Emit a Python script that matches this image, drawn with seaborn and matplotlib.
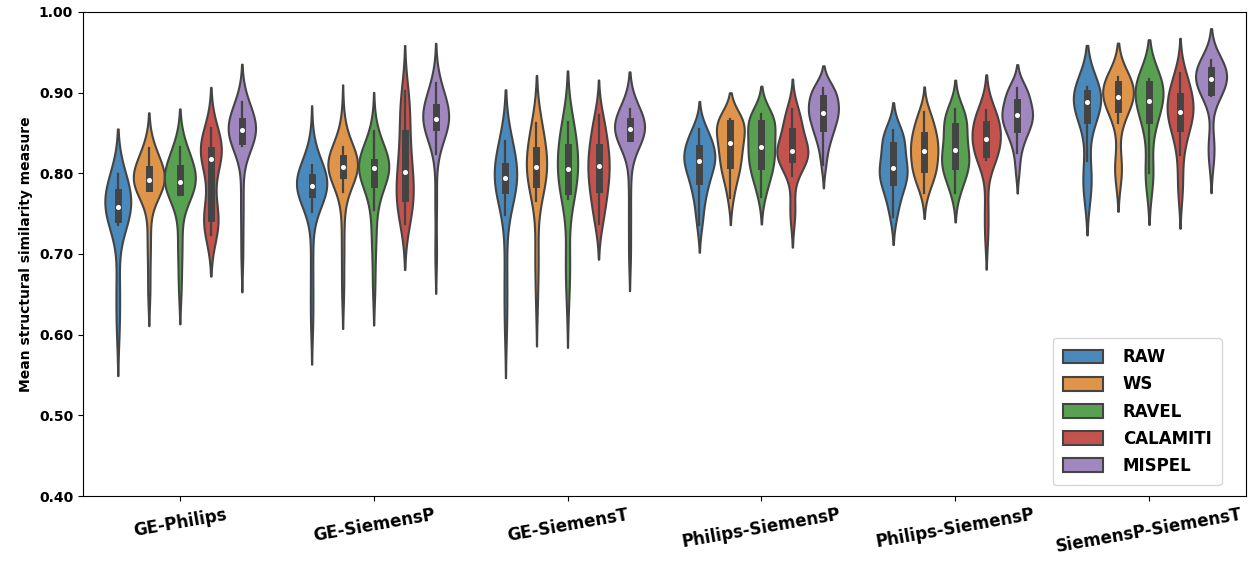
import numpy as np
import pandas as pd
import matplotlib
matplotlib.use("Agg")
import matplotlib.pyplot as plt
import seaborn as sns

tick_labels = ["GE-Philips", "GE-SiemensP", "GE-SiemensT",
               "Philips-SiemensP", "Philips-SiemensP", "SiemensP-SiemensT"]
methods = ["RAW", "WS", "RAVEL", "CALAMITI", "MISPEL"]
colors = ["#4a89bb", "#e0944a", "#58a150", "#c4534e", "#a087c0"]

# Mean SSIM samples per method, one list per scanner pair
RAW = [
    [0.605, 0.640, 0.672, 0.736, 0.740, 0.744, 0.748, 0.752, 0.755, 0.757,
     0.759, 0.763, 0.767, 0.772, 0.776, 0.780, 0.785, 0.790, 0.795, 0.799],
    [0.615, 0.655, 0.700, 0.752, 0.768, 0.773, 0.775, 0.777, 0.780, 0.782,
     0.783, 0.784, 0.785, 0.786, 0.788, 0.789, 0.791, 0.794, 0.798, 0.800,
     0.803, 0.806, 0.810, 0.832],
    [0.610, 0.650, 0.690, 0.748, 0.765, 0.779, 0.782, 0.785, 0.788, 0.791,
     0.792, 0.795, 0.796, 0.798, 0.801, 0.805, 0.810, 0.825, 0.830, 0.835,
     0.838, 0.840],
    [0.736, 0.750, 0.765, 0.775, 0.783, 0.788, 0.793, 0.799, 0.805, 0.810,
     0.815, 0.815, 0.818, 0.819, 0.822, 0.823, 0.828, 0.834, 0.840, 0.843,
     0.846, 0.850, 0.855],
    [0.746, 0.760, 0.772, 0.780, 0.787, 0.791, 0.795, 0.799, 0.803, 0.806,
     0.811, 0.815, 0.821, 0.832, 0.838, 0.842, 0.846, 0.850, 0.853],
    [0.775, 0.785, 0.795, 0.815, 0.866, 0.870, 0.875, 0.880, 0.888, 0.891,
     0.895, 0.898, 0.900, 0.902, 0.904, 0.906, 0.907],
]
WS = [
    [0.655, 0.700, 0.730, 0.779, 0.780, 0.781, 0.783, 0.785, 0.787, 0.789,
     0.791, 0.792, 0.794, 0.795, 0.797, 0.801, 0.806, 0.810, 0.815, 0.820,
     0.826, 0.831],
    [0.655, 0.700, 0.740, 0.777, 0.790, 0.796, 0.799, 0.802, 0.805, 0.806,
     0.807, 0.808, 0.809, 0.811, 0.812, 0.814, 0.817, 0.820, 0.823, 0.826,
     0.829, 0.833, 0.862],
    [0.645, 0.690, 0.705, 0.765, 0.776, 0.785, 0.790, 0.795, 0.800, 0.805,
     0.806, 0.809, 0.810, 0.813, 0.818, 0.823, 0.830, 0.842, 0.848, 0.853,
     0.858, 0.862],
    [0.769, 0.785, 0.797, 0.803, 0.807, 0.812, 0.818, 0.825, 0.830, 0.835,
     0.839, 0.843, 0.848, 0.853, 0.861, 0.864, 0.865, 0.866, 0.866, 0.867],
    [0.775, 0.788, 0.795, 0.799, 0.802, 0.807, 0.812, 0.817, 0.822, 0.826,
     0.830, 0.834, 0.838, 0.842, 0.846, 0.851, 0.857, 0.863, 0.870, 0.876],
    [0.795, 0.805, 0.815, 0.862, 0.876, 0.883, 0.886, 0.889, 0.892, 0.895,
     0.897, 0.900, 0.904, 0.908, 0.912, 0.914, 0.916, 0.917, 0.919],
]
RAVEL = [
    [0.660, 0.700, 0.725, 0.773, 0.775, 0.778, 0.781, 0.784, 0.786, 0.788,
     0.790, 0.793, 0.796, 0.800, 0.806, 0.810, 0.815, 0.821, 0.827, 0.833],
    [0.660, 0.705, 0.728, 0.755, 0.772, 0.786, 0.790, 0.795, 0.800, 0.804,
     0.806, 0.807, 0.809, 0.810, 0.811, 0.813, 0.815, 0.817, 0.822, 0.828,
     0.838, 0.852],
    [0.648, 0.690, 0.695, 0.768, 0.774, 0.780, 0.786, 0.792, 0.797, 0.802,
     0.808, 0.813, 0.818, 0.823, 0.830, 0.842, 0.848, 0.853, 0.858, 0.863],
    [0.771, 0.785, 0.795, 0.801, 0.806, 0.810, 0.816, 0.822, 0.827, 0.831,
     0.835, 0.840, 0.846, 0.852, 0.861, 0.864, 0.866, 0.868, 0.871, 0.874],
    [0.775, 0.788, 0.796, 0.803, 0.808, 0.811, 0.815, 0.819, 0.827, 0.831,
     0.837, 0.845, 0.854, 0.860, 0.865, 0.870, 0.875, 0.880],
    [0.785, 0.800, 0.808, 0.848, 0.866, 0.874, 0.879, 0.883, 0.889, 0.897,
     0.902, 0.906, 0.911, 0.913, 0.915, 0.916, 0.917],
]
CALAMITI = [
    [0.723, 0.732, 0.738, 0.741, 0.742, 0.745, 0.750, 0.770, 0.800, 0.815,
     0.821, 0.824, 0.826, 0.827, 0.828, 0.832, 0.836, 0.842, 0.848, 0.856],
    [0.737, 0.745, 0.755, 0.762, 0.766, 0.770, 0.776, 0.783, 0.790, 0.797,
     0.805, 0.812, 0.822, 0.835, 0.846, 0.860, 0.872, 0.883, 0.893, 0.902],
    [0.737, 0.748, 0.760, 0.770, 0.780, 0.784, 0.790, 0.798, 0.805, 0.812,
     0.815, 0.821, 0.827, 0.835, 0.843, 0.852, 0.862, 0.872],
    [0.745, 0.760, 0.797, 0.807, 0.814, 0.818, 0.820, 0.822, 0.824, 0.825,
     0.827, 0.828, 0.830, 0.835, 0.842, 0.852, 0.858, 0.863, 0.868, 0.874,
     0.880],
    [0.725, 0.760, 0.816, 0.820, 0.823, 0.825, 0.829, 0.833, 0.837, 0.847,
     0.850, 0.854, 0.858, 0.862, 0.866, 0.870, 0.874, 0.878],
    [0.775, 0.792, 0.822, 0.838, 0.850, 0.858, 0.863, 0.867, 0.871, 0.874,
     0.878, 0.882, 0.886, 0.890, 0.894, 0.899, 0.905, 0.911, 0.918, 0.924],
]
MISPEL = [
    [0.700, 0.745, 0.780, 0.834, 0.836, 0.838, 0.841, 0.844, 0.847, 0.850,
     0.851, 0.853, 0.854, 0.856, 0.857, 0.860, 0.863, 0.866, 0.870, 0.874,
     0.879, 0.884, 0.888],
    [0.700, 0.765, 0.824, 0.845, 0.853, 0.856, 0.858, 0.860, 0.862, 0.864,
     0.866, 0.867, 0.869, 0.871, 0.873, 0.876, 0.880, 0.884, 0.888, 0.893,
     0.899, 0.906, 0.912],
    [0.700, 0.745, 0.790, 0.840, 0.841, 0.843, 0.845, 0.848, 0.850, 0.852,
     0.853, 0.855, 0.855, 0.857, 0.858, 0.860, 0.863, 0.866, 0.869, 0.872,
     0.875, 0.878, 0.880],
    [0.810, 0.825, 0.838, 0.845, 0.849, 0.853, 0.858, 0.863, 0.867, 0.870,
     0.874, 0.875, 0.878, 0.880, 0.883, 0.885, 0.889, 0.897, 0.901, 0.902,
     0.903, 0.904, 0.905],
    [0.804, 0.825, 0.838, 0.845, 0.850, 0.854, 0.858, 0.862, 0.865, 0.868,
     0.871, 0.874, 0.875, 0.878, 0.879, 0.884, 0.890, 0.897, 0.900, 0.902,
     0.904, 0.906],
    [0.815, 0.830, 0.842, 0.896, 0.899, 0.901, 0.904, 0.907, 0.911, 0.915,
     0.918, 0.921, 0.924, 0.926, 0.928, 0.929, 0.932, 0.935, 0.938, 0.940],
]

series = {"RAW": RAW, "WS": WS, "RAVEL": RAVEL, "CALAMITI": CALAMITI, "MISPEL": MISPEL}
# Internal keys keep the two identically-labelled pairs apart
pair_keys = [f"pair{i}" for i in range(len(tick_labels))]

rows = []
for m in methods:
    for key, vals in zip(pair_keys, series[m]):
        for v in vals:
            rows.append((key, m, v))
df = pd.DataFrame(rows, columns=["pair", "method", "ssim"])

fig = plt.figure(figsize=(12.56, 5.63), dpi=100)
ax = fig.add_axes([0.066, 0.119, 0.926, 0.860])

sns.violinplot(data=df, x="pair", y="ssim", hue="method", order=pair_keys,
               hue_order=methods, palette=colors, saturation=1,
               linewidth=1.5, linecolor="#444444", inner="box",
               inner_kws=dict(box_width=5, whis_width=1.6, marker="o", markersize=2.6),
               ax=ax)

yt = np.arange(0.40, 1.001, 0.10)
ax.set_ylim(0.40, 1.00)
ax.set_yticks(yt)
ax.set_yticklabels([f"{t:.2f}" for t in yt], fontsize=10, fontweight="bold")
ax.set_xticks(range(len(tick_labels)))
ax.set_xticklabels(tick_labels, rotation=10, fontsize=12, fontweight="bold")
ax.set_xlabel("")
ax.set_ylabel("Mean structural similarity measure", fontsize=10, fontweight="bold")

leg = ax.legend(loc="lower right", bbox_to_anchor=(0.979, 0.023), borderaxespad=0,
                prop=dict(size=12, weight="bold"),
                handlelength=2.4, handleheight=0.9, labelspacing=0.55,
                borderpad=0.6, handletextpad=1.2)

fig.savefig("out.png", dpi=100)
